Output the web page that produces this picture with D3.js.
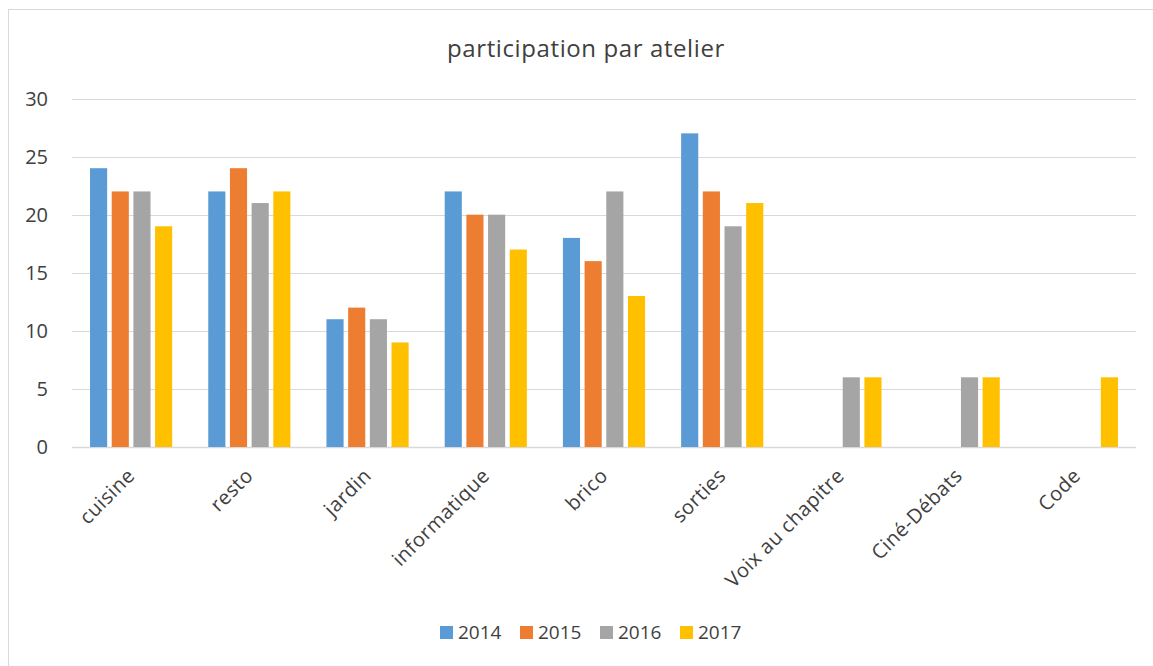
<!DOCTYPE html>
<html>
<head>
<meta charset="utf-8">
<script src="https://cdn.jsdelivr.net/npm/d3@7"></script>
<style>
  body { margin: 0; background: #fff; }
  svg text { font-family: "Open Sans", "Noto Sans", sans-serif; fill: #404040; }
</style>
</head>
<body>
<div id="chart"></div>
<script>
var categories = ["cuisine", "resto", "jardin", "informatique", "brico", "sorties", "Voix au chapitre", "Ciné-Débats", "Code"];
var years = ["2014", "2015", "2016", "2017"];
var v2014 = [24, 22, 11, 22, 18, 27, null, null, null];
var v2015 = [22, 24, 12, 20, 16, 22, null, null, null];
var v2016 = [22, 21, 11, 20, 22, 19, 6, 6, null];
var v2017 = [19, 22, 9, 17, 13, 21, 6, 6, 6];
var yTicks = [0, 5, 10, 15, 20, 25, 30];
var colors = ["#5B9BD5", "#ED7D31", "#A5A5A5", "#FFC000"];

var series = [v2014, v2015, v2016, v2017];
var width = 1153, height = 666;

var svg = d3.select("#chart").append("svg")
    .attr("width", width)
    .attr("height", height);

// chart border
svg.append("rect")
    .attr("x", 8.5).attr("y", 9.5)
    .attr("width", 1170).attr("height", 700)
    .attr("fill", "none")
    .attr("stroke", "#d9d9d9")
    .attr("stroke-width", 1);

var x = d3.scaleBand().domain(categories).range([72, 1136]);
var y = d3.scaleLinear().domain([0, 30]).range([447, 98.5]);
var groupFrac = 0.695;
var xi = d3.scaleBand().domain(years).range([0, x.bandwidth() * groupFrac]).paddingInner(0.21);
var groupOffset = (x.bandwidth() - x.bandwidth() * groupFrac) / 2;

// gridlines
svg.append("g").selectAll("line")
    .data(yTicks)
  .enter().append("line")
    .attr("x1", 72).attr("x2", 1136)
    .attr("y1", function(d) { return Math.round(y(d)) + 0.5; })
    .attr("y2", function(d) { return Math.round(y(d)) + 0.5; })
    .attr("stroke", "#d9d9d9")
    .attr("stroke-width", function(d) { return d === 0 ? 1.5 : 1; });

// y labels
svg.append("g").selectAll("text")
    .data(yTicks)
  .enter().append("text")
    .attr("x", 48)
    .attr("y", function(d) { return y(d); })
    .attr("dy", "0.35em")
    .attr("text-anchor", "end")
    .attr("font-size", "20px")
    .text(function(d) { return d; });

// bars
var groups = svg.append("g").selectAll("g")
    .data(categories)
  .enter().append("g")
    .attr("transform", function(d) { return "translate(" + (x(d) + groupOffset) + ",0)"; });

groups.selectAll("rect")
    .data(function(d, i) {
      return years.map(function(yr, j) { return {year: yr, value: series[j][i], color: colors[j]}; });
    })
  .enter().filter(function(d) { return d.value != null; })
    .append("rect")
    .attr("x", function(d) { return xi(d.year); })
    .attr("y", function(d) { return y(d.value); })
    .attr("width", xi.bandwidth())
    .attr("height", function(d) { return y(0) - y(d.value); })
    .attr("fill", function(d) { return d.color; });

// x labels
svg.append("g").selectAll("text")
    .data(categories)
  .enter().append("text")
    .attr("transform", function(d) {
      return "translate(" + (x(d) + x.bandwidth() / 2 + 5) + ",477) rotate(-45)";
    })
    .attr("text-anchor", "end")
    .attr("font-size", "20px")
    .attr("letter-spacing", "0.5px")
    .text(function(d) { return d; });

// title
svg.append("text")
    .attr("x", 586)
    .attr("y", 57)
    .attr("text-anchor", "middle")
    .attr("font-size", "24px")
    .attr("letter-spacing", "0.6px")
    .text("participation par atelier");

// legend
var legend = svg.append("g").selectAll("g")
    .data(years)
  .enter().append("g")
    .attr("transform", function(d, i) { return "translate(" + (440 + i * 80) + ",626)"; });

legend.append("rect")
    .attr("width", 13).attr("height", 13)
    .attr("fill", function(d, i) { return colors[i]; });

legend.append("text")
    .attr("x", 18)
    .attr("y", 6.5)
    .attr("dy", "0.35em")
    .attr("font-size", "19px")
    .text(function(d) { return d; });
</script>
</body>
</html>
